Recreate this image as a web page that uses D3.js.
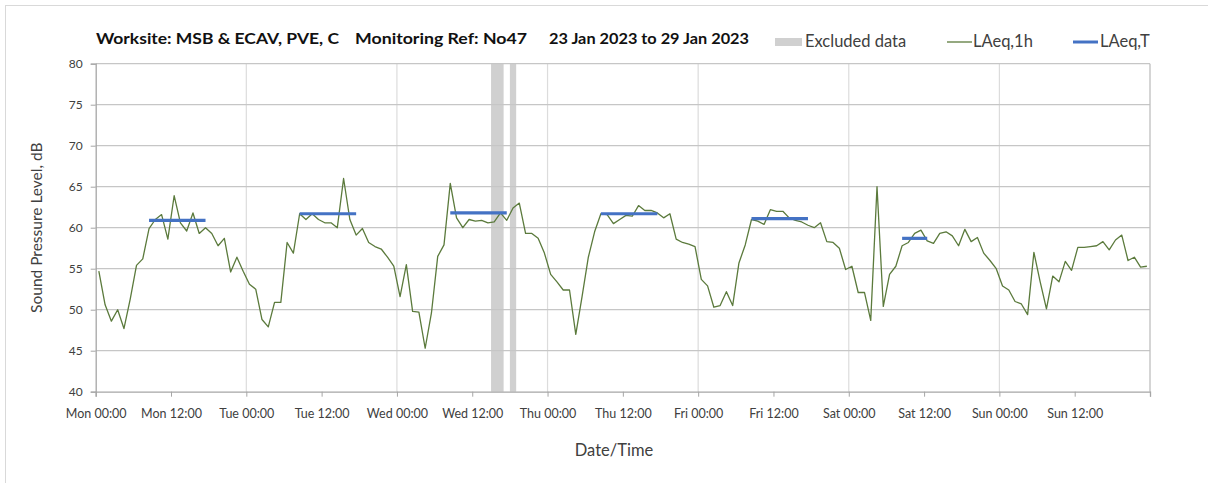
<!DOCTYPE html>
<html>
<head>
<meta charset="utf-8">
<script src="https://cdn.jsdelivr.net/npm/d3@7"></script>
<style>
  body { margin: 0; background: #fff; }
  svg { display: block; font-family: Lato, "Open Sans", sans-serif; }
</style>
</head>
<body>
<svg id="chart" width="1208" height="483"></svg>
<script>
// hourly LAeq,1h values, Mon 23 Jan 2023 00:00 onwards (one per hour, plotted mid-hour)
const LAEQ_1H = [
  54.7, 50.6, 48.6, 50.0, 47.7, 51.3, 55.4, 56.2, 59.9, 61.0, 61.6, 58.6, 63.9, 60.6, 59.6, 61.8, 59.3, 60.0, 59.3, 57.8, 58.7, 54.6, 56.4, 54.7,
  53.1, 52.5, 48.8, 47.9, 50.9, 50.9, 58.2, 56.9, 61.7, 61.0, 61.7, 61.0, 60.6, 60.6, 60.0, 66.0, 61.0, 59.1, 59.9, 58.2, 57.7, 57.4, 56.4, 55.3,
  51.6, 55.5, 49.8, 49.7, 45.3, 49.6, 56.5, 57.9, 65.4, 61.2, 60.0, 61.0, 60.8, 60.9, 60.6, 60.7, 61.8, 60.9, 62.4, 63.0, 59.3, 59.3, 58.7, 56.9,
  54.3, 53.4, 52.4, 52.4, 47.0, 51.6, 56.4, 59.5, 61.7, 61.6, 60.5, 61.0, 61.5, 61.4, 62.7, 62.1, 62.1, 61.8, 61.2, 61.7, 58.6, 58.2, 58.0, 57.7,
  53.7, 52.9, 50.3, 50.5, 52.2, 50.5, 55.7, 57.9, 61.0, 60.8, 60.4, 62.2, 62.0, 62.0, 61.2, 60.9, 60.7, 60.3, 60.0, 60.6, 58.3, 58.2, 57.5, 54.9,
  55.3, 52.1, 52.1, 48.7, 65.0, 50.4, 54.3, 55.3, 57.8, 58.2, 59.3, 59.7, 58.4, 58.1, 59.3, 59.5, 59.0, 57.8, 59.8, 58.3, 58.8, 56.9, 56.0, 55.0,
  52.9, 52.4, 51.0, 50.7, 49.4, 57.0, 53.4, 50.1, 54.1, 53.4, 55.9, 54.8, 57.6, 57.6, 57.7, 57.8, 58.3, 57.3, 58.5, 59.1, 56.0, 56.4, 55.2, 55.3
]

// LAeq,T daytime periods: [start, end] as hour index into LAEQ_1H, and level
const PERIOD_START = [8, 32, 56, 80, 104, 128]
const PERIOD_END = [17, 41, 65, 89, 113, 132]
const PERIOD_LEVEL = [60.9, 61.7, 61.8, 61.7, 61.1, 58.7]

// excluded data windows, hour offsets from Mon 00:00
const EXCLUDED_FROM = [63, 66]
const EXCLUDED_TO = [65, 67]

const Y_TICKS = [40, 45, 50, 55, 60, 65, 70, 75, 80]
const TITLE_PARTS = ["Worksite: MSB & ECAV, PVE, C", "Monitoring Ref: No47", "23 Jan 2023 to 29 Jan 2023"]

const START = Date.UTC(2023, 0, 23, 0, 0)
const HOUR = 3600 * 1000
const hourTime = h => new Date(START + h * HOUR)

const margins = { top: 63.7, bottom: 91.3, left: 95.7, right: 58 }
const svg = d3.select("#chart")
const W = +svg.attr("width"), H = +svg.attr("height")
const width = W - margins.left - margins.right
const height = H - margins.top - margins.bottom

// outer frame
svg.append("rect")
    .attr("x", 5.5).attr("y", 5.5)
    .attr("width", W + 10).attr("height", H + 10)
    .attr("fill", "none").attr("stroke", "#d9d9d9")

const g = svg.append("g").attr("transform", "translate(" + margins.left + "," + margins.top + ")")

const x = d3.scaleUtc().domain([hourTime(0), hourTime(168)]).range([0, width])
const y = d3.scaleLinear().domain([40, 80]).range([height, 0])

// excluded bands
g.selectAll(".excl")
    .data(EXCLUDED_FROM.map((f, i) => [f, EXCLUDED_TO[i]]))
    .enter().append("rect")
    .attr("x", d => x(hourTime(d[0])))
    .attr("width", d => x(hourTime(d[1])) - x(hourTime(d[0])))
    .attr("y", 0).attr("height", height)
    .attr("fill", "#d0d0d0")

// vertical day gridlines
const dayTicks = d3.utcDay.range(hourTime(24), hourTime(168))
g.selectAll(".vgrid")
    .data(dayTicks).enter().append("line")
    .attr("x1", d => x(d)).attr("x2", d => x(d))
    .attr("y1", 0).attr("y2", height)
    .attr("stroke", "#dcdcdc").attr("stroke-width", 1.2)

// horizontal gridlines
g.selectAll(".hgrid")
    .data(Y_TICKS.slice(1)).enter().append("line")
    .attr("x1", 0).attr("x2", width)
    .attr("y1", d => y(d)).attr("y2", d => y(d))
    .attr("stroke", "#c6c6c6").attr("stroke-width", 1.3)

// right border
g.append("line")
    .attr("x1", width).attr("x2", width).attr("y1", 0).attr("y2", height)
    .attr("stroke", "#bfbfbf").attr("stroke-width", 1.3)

// axes
const xAxis = g.append("g")
    .attr("transform", "translate(0," + height + ")")
    .call(d3.axisBottom(x)
        .ticks(d3.utcHour.every(12))
        .tickSize(5)
        .tickFormat((d, i) => +d === +hourTime(168) ? "" : d3.utcFormat("%a %H:%M")(d)))
xAxis.select(".domain").attr("stroke", "#a6a6a6").attr("stroke-width", 1.3)
xAxis.selectAll(".tick line").attr("stroke", "#a6a6a6")
xAxis.selectAll("text")
    .attr("dy", "1.45em")
    .attr("font-size", "12.5px")
    .attr("fill", "#404040")
    .attr("font-family", "Lato, sans-serif")

const yAxis = g.append("g")
    .call(d3.axisLeft(y).tickValues(Y_TICKS).tickSize(5).tickPadding(8))
yAxis.select(".domain").attr("stroke", "#a6a6a6").attr("stroke-width", 1.3)
yAxis.selectAll(".tick line").attr("stroke", "#a6a6a6")
yAxis.selectAll("text")
    .attr("font-size", "12px")
    .attr("fill", "#404040")
    .attr("font-family", "Lato, sans-serif")

// LAeq,1h line
const line = d3.line()
    .x((d, i) => x(hourTime(i + 0.5)))
    .y(d => y(d))
g.append("path")
    .datum(LAEQ_1H)
    .attr("d", line)
    .attr("fill", "none")
    .attr("stroke", "#5b7a3c")
    .attr("stroke-width", 1.3)
    .attr("stroke-linejoin", "round")

// LAeq,T segments
g.selectAll(".laeqT")
    .data(PERIOD_LEVEL).enter().append("line")
    .attr("x1", (d, i) => x(hourTime(PERIOD_START[i] + 0.5)))
    .attr("x2", (d, i) => x(hourTime(PERIOD_END[i] + 0.5)))
    .attr("y1", d => y(d)).attr("y2", d => y(d))
    .attr("stroke", "#4472c4")
    .attr("stroke-width", 3.2)

// axis titles
svg.append("text")
    .attr("transform", "translate(42," + (margins.top + height / 2) + ") rotate(-90)")
    .attr("text-anchor", "middle")
    .attr("font-size", "15.5px")
    .attr("fill", "#404040")
    .text("Sound Pressure Level, dB")

svg.append("text")
    .attr("x", 614)
    .attr("y", 456)
    .attr("text-anchor", "middle")
    .attr("font-size", "16.5px")
    .attr("fill", "#404040")
    .text("Date/Time")

// title
const TITLE_X = [96, 355, 549]
const TITLE_W = [243, 172, 200]
svg.selectAll(".title")
    .data(TITLE_PARTS).enter().append("text")
    .attr("x", (d, i) => TITLE_X[i])
    .attr("y", 44)
    .attr("font-size", "16px")
    .attr("font-weight", "bold")
    .attr("fill", "#111")
    .attr("textLength", (d, i) => TITLE_W[i])
    .attr("lengthAdjust", "spacingAndGlyphs")
    .text(d => d)

// legend
const legend = svg.append("g")
legend.append("rect")
    .attr("x", 775).attr("y", 38).attr("width", 27).attr("height", 8)
    .attr("fill", "#d0d0d0")
legend.append("text")
    .attr("x", 805).attr("y", 46.5)
    .attr("font-size", "16.5px").attr("fill", "#404040")
    .text("Excluded data")
legend.append("line")
    .attr("x1", 947).attr("x2", 972).attr("y1", 42).attr("y2", 42)
    .attr("stroke", "#5b7a3c").attr("stroke-width", 1.3)
legend.append("text")
    .attr("x", 973).attr("y", 46.5)
    .attr("font-size", "16.5px").attr("fill", "#404040")
    .text("LAeq,1h")
legend.append("line")
    .attr("x1", 1073).attr("x2", 1098).attr("y1", 42).attr("y2", 42)
    .attr("stroke", "#4472c4").attr("stroke-width", 3)
legend.append("text")
    .attr("x", 1100).attr("y", 46.5)
    .attr("font-size", "16.5px").attr("fill", "#404040")
    .text("LAeq,T")
</script>
</body>
</html>
